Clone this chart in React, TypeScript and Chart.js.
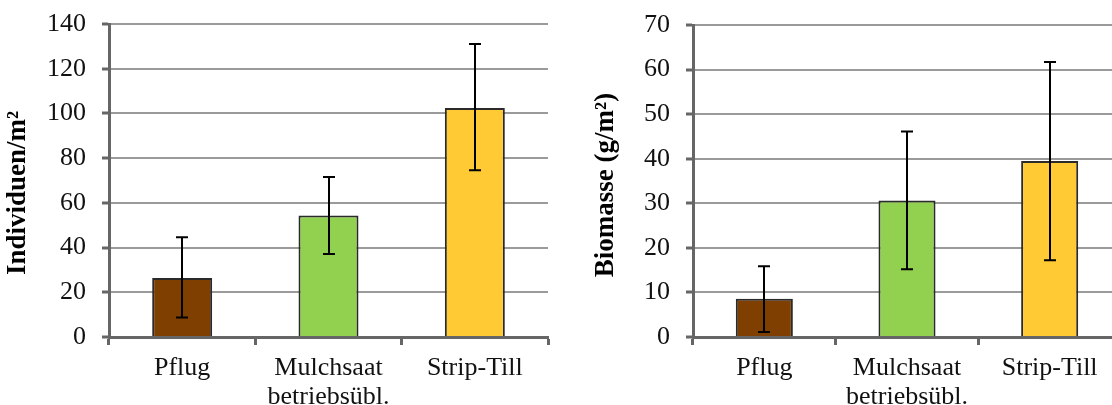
import React, { useEffect, useRef } from "react";
import { Chart, registerables } from "chart.js";

Chart.register(...registerables);

// ---- data ----
const categories: string[][] = [["Pflug"], ["Mulchsaat", "betriebsübl."], ["Strip-Till"]];
const barColors = ["#7f3f00", "#92d050", "#ffca33"];

const individuenValues = [26.4, 54.3, 102.4];
const individuenLow = [8.7, 37.1, 74.6];
const individuenHigh = [44.6, 71.6, 131.0];
const individuenTicks = [0, 20, 40, 60, 80, 100, 120, 140];

const biomasseValues = [8.6, 30.6, 39.5];
const biomasseLow = [1.1, 15.2, 17.2];
const biomasseHigh = [15.9, 46.1, 61.7];
const biomasseTicks = [0, 10, 20, 30, 40, 50, 60, 70];

const FONT = "'Liberation Serif', 'Times New Roman', serif";

const errorBarPlugin = {
  id: "errorBars",
  afterDatasetsDraw(chart: any, _args: any, opts: any) {
    const { ctx } = chart;
    const meta = chart.getDatasetMeta(0);
    const y = chart.scales.y;
    ctx.save();
    ctx.strokeStyle = "#000";
    ctx.lineWidth = 2;
    meta.data.forEach((el: any, i: number) => {
      const x = Math.round(el.x);
      const yl = y.getPixelForValue(opts.low[i]);
      const yh = y.getPixelForValue(opts.high[i]);
      ctx.beginPath();
      ctx.moveTo(x, yl);
      ctx.lineTo(x, yh);
      ctx.moveTo(x - 6, yl);
      ctx.lineTo(x + 6, yl);
      ctx.moveTo(x - 6, yh);
      ctx.lineTo(x + 6, yh);
      ctx.stroke();
    });
    ctx.restore();
  },
};

const axisTitlePlugin = {
  id: "axisTitle",
  afterDraw(chart: any, _args: any, opts: any) {
    const { ctx } = chart;
    ctx.save();
    ctx.translate(opts.x, opts.y);
    ctx.rotate(-Math.PI / 2);
    ctx.font = `bold 27px ${FONT}`;
    ctx.fillStyle = "#000";
    ctx.textAlign = "center";
    ctx.textBaseline = "middle";
    ctx.fillText(opts.text, 0, 0);
    ctx.restore();
  },
};

type PanelProps = {
  left: number;
  width: number;
  axisWidth: number;
  padTop: number;
  padRight: number;
  values: number[];
  low: number[];
  high: number[];
  ticks: number[];
  title: string;
  titleX: number;
  titleY: number;
  barPct: number;
};

function Panel(p: PanelProps) {
  const ref = useRef<HTMLCanvasElement>(null);
  useEffect(() => {
    if (!ref.current) return;
    const step = p.ticks[1] - p.ticks[0];
    const chart = new Chart(ref.current, {
      type: "bar",
      data: {
        labels: categories,
        datasets: [
          {
            data: p.values,
            backgroundColor: barColors,
            borderColor: "#2a2a2a",
            borderWidth: 2,
            barPercentage: p.barPct,
            categoryPercentage: 1,
          },
        ],
      },
      plugins: [errorBarPlugin, axisTitlePlugin],
      options: {
        responsive: false,
        animation: false,
        layout: { padding: { top: p.padTop, right: p.padRight, left: 0, bottom: 0 } },
        plugins: {
          legend: { display: false },
          tooltip: { enabled: false },
          errorBars: { low: p.low, high: p.high },
          axisTitle: { text: p.title, x: p.titleX, y: p.titleY },
        } as any,
        scales: {
          x: {
            grid: {
              drawOnChartArea: false,
              drawTicks: true,
              tickLength: 8,
              tickColor: "#666666",
              tickWidth: 3,
              color: "#666666",
              offset: true,
            },
            border: { color: "#666666", width: 3 },
            ticks: {
              color: "#111111",
              padding: 9,
              maxRotation: 0,
              autoSkip: false,
              font: { family: FONT, size: 26, lineHeight: 1.1 },
            },
            afterFit: (s: any) => {
              s.height = 405 - 337;
            },
          },
          y: {
            min: p.ticks[0],
            max: p.ticks[p.ticks.length - 1],
            afterBuildTicks: (s: any) => {
              s.ticks = p.ticks.map((v) => ({ value: v }));
            },
            ticks: {
              stepSize: step,
              color: "#111111",
              padding: 16,
              font: { family: FONT, size: 26, lineHeight: 0.3 },
            },
            grid: {
              color: "#9a9a9a",
              lineWidth: 2,
              drawTicks: true,
              tickLength: 7,
              tickColor: "#666666",
              tickWidth: 3,
            },
            border: { color: "#666666", width: 3 },
            afterFit: (s: any) => {
              s.width = p.axisWidth;
            },
          },
        },
      },
    });
    return () => chart.destroy();
  }, []);
  return (
    <canvas
      ref={ref}
      width={p.width}
      height={405}
      style={{ position: "absolute", left: p.left, top: 0, width: p.width, height: 405 }}
    />
  );
}

export default function App() {
  return (
    <div
      style={{
        position: "fixed",
        left: 0,
        top: 0,
        width: 1112,
        height: 405,
        overflow: "hidden",
        background: "#fff",
      }}
    >
      <Panel
        left={0}
        width={556}
        axisWidth={109}
        padTop={24}
        padRight={8}
        values={individuenValues}
        low={individuenLow}
        high={individuenHigh}
        ticks={individuenTicks}
        title="Individuen/m²"
        titleX={18}
        titleY={193}
        barPct={0.41}
      />
      <Panel
        left={556}
        width={580}
        axisWidth={137}
        padTop={25}
        padRight={15}
        values={biomasseValues}
        low={biomasseLow}
        high={biomasseHigh}
        ticks={biomasseTicks}
        title="Biomasse (g/m²)"
        titleX={50}
        titleY={185}
        barPct={0.4}
      />
    </div>
  );
}
